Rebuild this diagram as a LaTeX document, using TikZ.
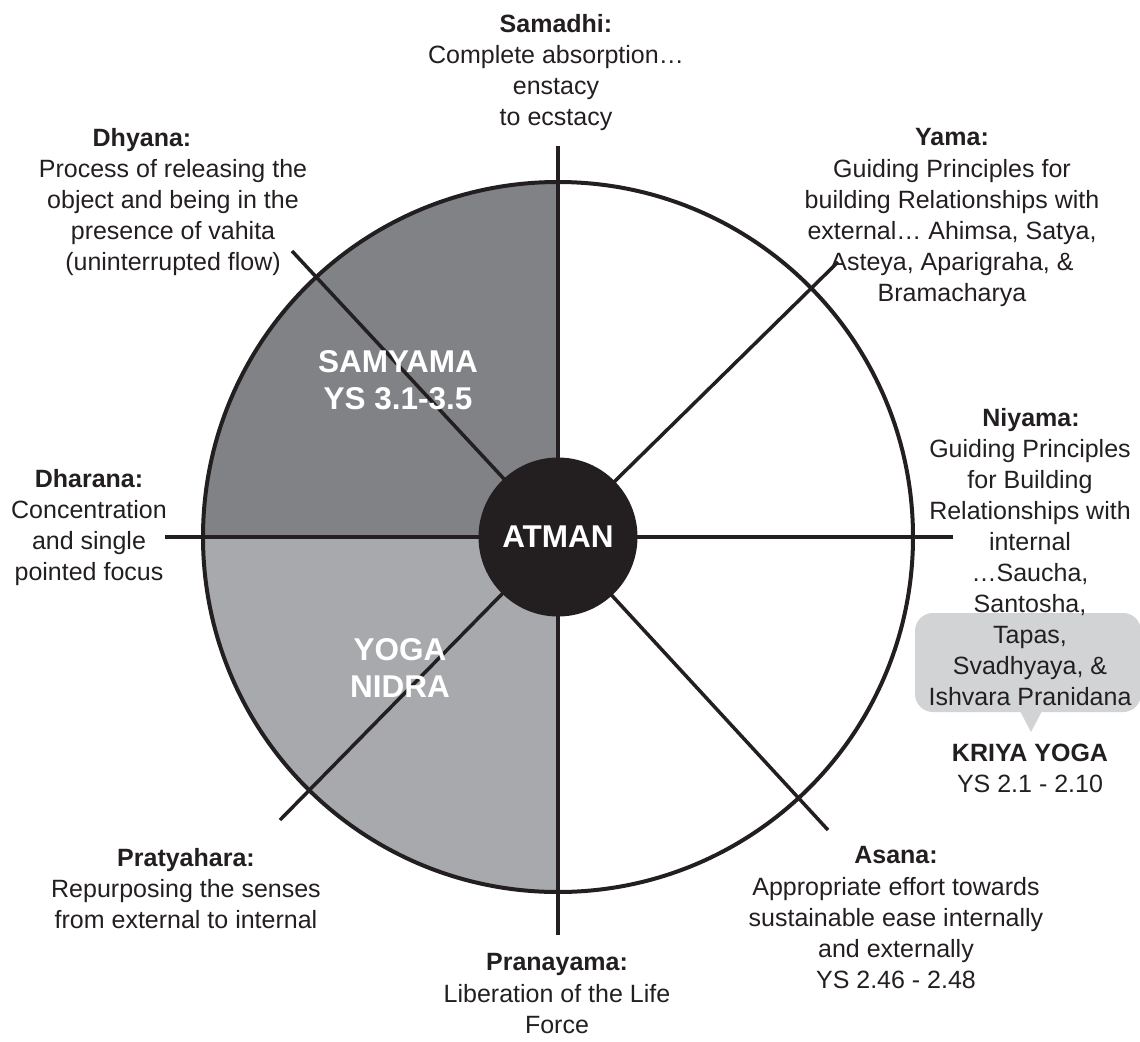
\documentclass[tikz,border=0pt]{standalone}
\usepackage{fontspec}
\setmainfont{Liberation Sans}
\usepackage{tikz}

\definecolor{ink}{HTML}{231F20}
\definecolor{darkfill}{HTML}{808285}
\definecolor{lightfill}{HTML}{A7A9AC}
\definecolor{bubblefill}{HTML}{D1D3D4}

\begin{document}
\begin{tikzpicture}[x=1pt, y=-1pt,
    limbtitle/.style={font=\fontsize{25}{31}\selectfont\bfseries, text=ink, inner sep=0pt, anchor=north},
    limbtext/.style={font=\fontsize{25}{31}\selectfont, text=ink, inner sep=0pt, anchor=north, align=center},
    wedgetext/.style={font=\fontsize{31.5}{37}\selectfont\bfseries, text=white, inner sep=0pt, align=center},
    spoke/.style={line width=3.5pt, draw=ink}]
    \useasboundingbox (0,0) rectangle (1140,1041);
    \coordinate (c) at (558,537);
    % shaded quarters
    \fill[darkfill] (c) -- ++(-355,0) arc[start angle=180, end angle=270, radius=355] -- cycle;
    \fill[lightfill] (c) -- ++(-355,0) arc[start angle=180, end angle=90, radius=355] -- cycle;
    % spokes
    \coordinate (pn) at (558,146);
    \coordinate (ps) at (558,935);
    \coordinate (pw) at (165,537);
    \coordinate (pe) at (953,537);
    \coordinate (pne) at (838,262);
    \coordinate (pnw) at (292,251);
    \coordinate (psw) at (280,820);
    \coordinate (pse) at (828,830);
    \draw[spoke] (pn) -- (ps);
    \draw[spoke] (pw) -- (pe);
    \foreach \p in {pne,pnw,psw,pse}
        \draw[spoke] (c) -- (\p);
    \draw[line width=4pt, draw=ink] (c) circle[radius=355];
    \node[circle, fill=ink, minimum size=159pt, inner sep=0pt] (atman) at (c) {};
    \node[wedgetext] at (atman) {ATMAN};
    \node[wedgetext] (samyama) at (398,380) {SAMYAMA\\YS 3.1-3.5};
    \node[wedgetext] (nidra) at (400,668) {YOGA\\NIDRA};
    % callout behind Niyama
    \fill[bubblefill, rounded corners=18pt] (915,613) rectangle (1141,712);
    \fill[bubblefill] (1020,711) -- (1042,711) -- (1031,732) -- cycle;
    % the eight limbs
    \node[limbtitle] (samadhi) at (556,14) {Samadhi:};
    \node[limbtext] (samadhit) at (556,45) {Complete absorption…\\enstacy\\to ecstacy};
    \node[limbtitle] (yama) at (952,128) {Yama:};
    \node[limbtext] (yamat) at (952,159) {Guiding Principles for\\building Relationships with\\external… Ahimsa, Satya,\\Asteya, Aparigraha, \&\\Bramacharya};
    \node[limbtitle] (dhyana) at (142,128) {Dhyana:};
    \node[limbtext] (dhyanat) at (173,159) {Process of releasing the\\object and being in the\\presence of vahita\\(uninterrupted flow)};
    \node[limbtitle] (niyama) at (1031,408) {Niyama:};
    \node[limbtext] (niyamat) at (1030,439) {Guiding Principles\\for Building\\Relationships with\\internal\\…Saucha,\\Santosha,\\Tapas,\\Svadhyaya, \&\\Ishvara Pranidana};
    \node[limbtitle] (kriya) at (1030,744) {KRIYA YOGA};
    \node[limbtext] (kriyat) at (1030,775) {YS 2.1 - 2.10};
    \node[limbtitle] (dharana) at (89,469) {Dharana:};
    \node[limbtext] (dharanat) at (89,500) {Concentration\\and single\\pointed focus};
    \node[limbtitle] (asana) at (896,846) {Asana:};
    \node[limbtext] (asanat) at (896,877) {Appropriate effort towards\\sustainable ease internally\\and externally\\YS 2.46 - 2.48};
    \node[limbtitle] (pratyahara) at (186,848) {Pratyahara:};
    \node[limbtext] (pratyaharat) at (186,879) {Repurposing the senses\\from external to internal};
    \node[limbtitle] (pranayama) at (557,953) {Pranayama:};
    \node[limbtext] (pranayamat) at (557,984) {Liberation of the Life\\Force};
\end{tikzpicture}
\end{document}
